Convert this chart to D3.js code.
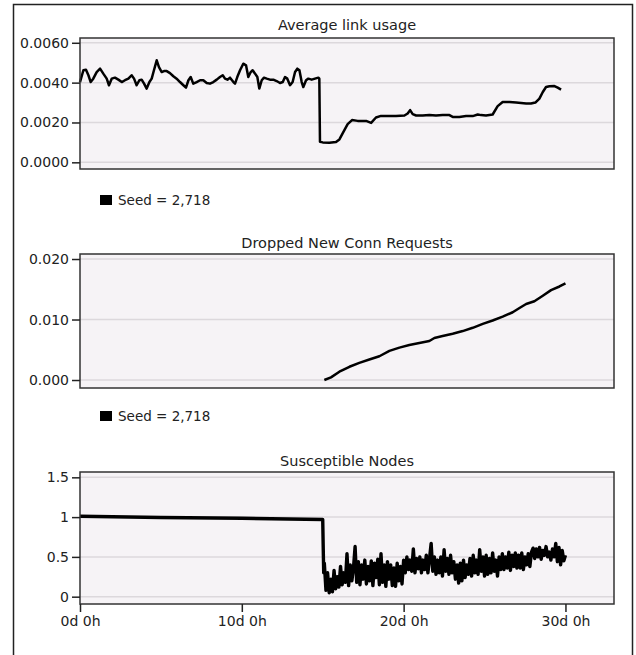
<!DOCTYPE html>
<html>
<head>
<meta charset="utf-8">
<script src="https://cdn.jsdelivr.net/npm/d3@7"></script>
<style>
  body { margin: 0; background: #fff; }
  text { font-family: "DejaVu Sans", sans-serif; fill: #222; }
</style>
</head>
<body>
<svg id="chart" width="636" height="655"></svg>
<script>
// x axis (days)
const xTickDays = [0, 10, 20, 30];
const xTickLabels = ["0d 0h", "10d 0h", "20d 0h", "30d 0h"];
const legendLabel = "Seed = 2,718";

// Average link usage
const usageTicks = [0, 0.002, 0.004, 0.006];
const usageDays = [0.00, 0.21, 0.37, 0.52, 0.66, 0.82, 1.03, 1.24, 1.44, 1.65, 1.79, 1.96, 2.16, 2.37, 2.58, 2.78, 2.99, 3.19, 3.34, 3.50,
  3.67, 3.81, 3.96, 4.12, 4.29, 4.43, 4.57, 4.74, 4.88, 5.05, 5.19, 5.36, 5.56, 5.77, 5.97, 6.18, 6.39, 6.55, 6.70, 6.84,
  7.00, 7.21, 7.42, 7.62, 7.83, 8.03, 8.24, 8.45, 8.65, 8.82, 8.96, 9.11, 9.27, 9.48, 9.58, 9.72, 9.89, 10.09, 10.26, 10.40,
  10.55, 10.67, 10.82, 10.96, 11.08, 11.23, 11.37, 11.54, 11.74, 11.95, 12.15, 12.36, 12.53, 12.67, 12.81, 12.98, 13.14, 13.29, 13.43, 13.56,
  13.70, 13.80, 13.97, 14.11, 14.32, 14.52, 14.73, 14.79, 14.83, 15.00, 15.41, 15.82, 16.03, 16.23, 16.54, 16.81, 17.16, 17.68, 17.99, 18.29,
  18.60, 19.01, 19.53, 20.05, 20.25, 20.40, 20.56, 20.77, 21.18, 21.59, 22.00, 22.41, 22.83, 23.03, 23.44, 23.86, 24.27, 24.58, 24.78, 25.09,
  25.50, 25.81, 26.12, 26.54, 26.95, 27.26, 27.57, 27.87, 28.14, 28.39, 28.60, 28.80, 29.01, 29.32, 29.52, 29.73];
const usageValues = [0.00403, 0.00462, 0.00465, 0.00437, 0.00403, 0.00420, 0.00453, 0.00470, 0.00445, 0.00420, 0.00387, 0.00420, 0.00425, 0.00415, 0.00403, 0.00412, 0.00420, 0.00437, 0.00420, 0.00387,
  0.00412, 0.00415, 0.00395, 0.00370, 0.00403, 0.00420, 0.00462, 0.00512, 0.00478, 0.00453, 0.00458, 0.00458, 0.00448, 0.00432, 0.00420, 0.00403, 0.00387, 0.00375, 0.00412, 0.00428,
  0.00395, 0.00403, 0.00412, 0.00412, 0.00398, 0.00395, 0.00403, 0.00415, 0.00428, 0.00437, 0.00420, 0.00415, 0.00425, 0.00403, 0.00395, 0.00428, 0.00462, 0.00495, 0.00487, 0.00428,
  0.00453, 0.00462, 0.00445, 0.00428, 0.00370, 0.00412, 0.00425, 0.00420, 0.00415, 0.00415, 0.00408, 0.00398, 0.00403, 0.00428, 0.00420, 0.00387, 0.00403, 0.00453, 0.00470, 0.00462,
  0.00403, 0.00378, 0.00412, 0.00420, 0.00415, 0.00420, 0.00425, 0.00420, 0.00103, 0.00100, 0.00098, 0.00102, 0.00115, 0.00145, 0.00192, 0.00212, 0.00208, 0.00208, 0.00198, 0.00225,
  0.00233, 0.00232, 0.00232, 0.00235, 0.00245, 0.00262, 0.00242, 0.00235, 0.00235, 0.00238, 0.00235, 0.00237, 0.00237, 0.00228, 0.00228, 0.00232, 0.00232, 0.00240, 0.00237, 0.00235,
  0.00240, 0.00282, 0.00303, 0.00303, 0.00300, 0.00298, 0.00295, 0.00295, 0.00300, 0.00320, 0.00353, 0.00378, 0.00382, 0.00383, 0.00375, 0.00365];

// Dropped New Conn Requests
const droppedTicks = [0, 0.01, 0.02];
const droppedDays = [15.10, 15.51, 16.03, 16.65, 17.26, 17.88, 18.50, 19.12, 19.74, 20.35, 20.97, 21.59, 21.90, 22.41,
  23.03, 23.65, 24.27, 24.89, 25.50, 26.12, 26.74, 27.16, 27.57, 28.08, 28.60, 29.11, 29.63, 30.00];
const droppedValues = [0, 0.00044, 0.00137, 0.00219, 0.00284, 0.00339, 0.00393, 0.00481, 0.00536, 0.00579, 0.00612, 0.00645, 0.00694, 0.00727,
  0.00765, 0.00809, 0.00863, 0.00929, 0.00984, 0.01049, 0.01120, 0.01191, 0.01257, 0.01301, 0.01393, 0.01486, 0.01546, 0.01596];

// Susceptible Nodes
const susTicks = [0, 0.5, 1, 1.5];
const susHeadDays = [0, 5, 10, 15.0, 15.03, 15.06];
const susHeadValues = [1.01, 0.995, 0.985, 0.97, 0.62, 0.30];
const susNoiseStart = 15.1;
const susNoiseStep = 0.1;
const susNoiseValues = [
  0.42, 0.08, 0.30, 0.05, 0.22, 0.06, 0.33, 0.10, 0.25, 0.12,
  0.38, 0.15, 0.30, 0.18, 0.54, 0.14, 0.40, 0.20, 0.36, 0.63,
  0.18, 0.44, 0.15, 0.40, 0.22, 0.46, 0.16, 0.38, 0.20, 0.45,
  0.14, 0.42, 0.24, 0.47, 0.15, 0.54, 0.18, 0.40, 0.13, 0.44,
  0.22, 0.40, 0.14, 0.36, 0.13, 0.42, 0.20, 0.38, 0.16, 0.46,
  0.30, 0.50, 0.34, 0.46, 0.32, 0.60, 0.30, 0.48, 0.35, 0.50,
  0.30, 0.46, 0.34, 0.52, 0.30, 0.48, 0.67, 0.32, 0.50, 0.28,
  0.46, 0.30, 0.50, 0.26, 0.59, 0.32, 0.48, 0.28, 0.52, 0.30,
  0.44, 0.22, 0.40, 0.17, 0.42, 0.20, 0.46, 0.24, 0.40, 0.28,
  0.48, 0.26, 0.52, 0.30, 0.46, 0.28, 0.59, 0.32, 0.50, 0.26,
  0.52, 0.28, 0.48, 0.30, 0.55, 0.32, 0.46, 0.26, 0.50, 0.34,
  0.54, 0.34, 0.50, 0.36, 0.56, 0.33, 0.52, 0.38, 0.55, 0.36,
  0.52, 0.36, 0.55, 0.34, 0.50, 0.40, 0.54, 0.38, 0.56, 0.61,
  0.48, 0.60, 0.50, 0.62, 0.47, 0.58, 0.52, 0.63, 0.50, 0.56,
  0.46, 0.60, 0.50, 0.67, 0.44, 0.62, 0.40, 0.58, 0.45, 0.52];


const svg = d3.select("#chart");
const left = 80, right = 614;

// outer frame
svg.append("rect")
  .attr("x", 13.5).attr("y", 4.5)
  .attr("width", 619).attr("height", 700)
  .attr("fill", "none").attr("stroke", "#222").attr("stroke-width", 1.5);

const x = d3.scaleLinear().domain([0, 33]).range([left, right]);

function pairs(days, values) {
  return days.map(function (d, i) { return [d, values[i]]; });
}

function drawPanel(p) {
  const y = d3.scaleLinear().domain(p.domain).range([p.bottom, p.top]);
  const g = svg.append("g");

  g.append("rect")
    .attr("x", left).attr("y", p.top)
    .attr("width", right - left).attr("height", p.bottom - p.top)
    .attr("fill", "#f6f3f6");

  g.selectAll(".grid")
    .data(p.ticks).enter()
    .append("line")
    .attr("x1", left).attr("x2", right)
    .attr("y1", function (d) { return y(d); })
    .attr("y2", function (d) { return y(d); })
    .attr("stroke", "#dcd8dc").attr("stroke-width", 1.5);

  const line = d3.line()
    .x(function (d) { return x(d[0]); })
    .y(function (d) { return y(d[1]); });

  g.append("path")
    .datum(p.data)
    .attr("d", line)
    .attr("fill", "none")
    .attr("stroke", "#000")
    .attr("stroke-width", p.lineWidth)
    .attr("stroke-linejoin", "round");

  g.append("rect")
    .attr("x", left).attr("y", p.top)
    .attr("width", right - left).attr("height", p.bottom - p.top)
    .attr("fill", "none").attr("stroke", "#333").attr("stroke-width", 1.5);

  const yAxis = g.append("g")
    .attr("transform", "translate(" + left + ",0)")
    .call(d3.axisLeft(y).tickValues(p.ticks).tickFormat(p.format).tickSize(8).tickPadding(3));
  yAxis.select(".domain").remove();
  yAxis.selectAll(".tick line").attr("stroke", "#222").attr("stroke-width", 1.5);
  yAxis.selectAll("text").style("font-size", "14px").attr("fill", "#222");

  g.append("text")
    .attr("x", (left + right) / 2).attr("y", p.titleY)
    .attr("text-anchor", "middle")
    .style("font-size", "14.5px")
    .text(p.title);

  if (p.legendY != null) {
    g.append("rect")
      .attr("x", 100).attr("y", p.legendY - 5)
      .attr("width", 12).attr("height", 10)
      .attr("fill", "#000");
    g.append("text")
      .attr("x", 118).attr("y", p.legendY + 5)
      .style("font-size", "13.5px")
      .text(legendLabel);
  }
  return g;
}

drawPanel({
  title: "Average link usage", titleY: 30, top: 38, bottom: 169,
  domain: [-0.000335, 0.00624], ticks: usageTicks, format: d3.format(".4f"),
  data: pairs(usageDays, usageValues), lineWidth: 2.5, legendY: 200
});

drawPanel({
  title: "Dropped New Conn Requests", titleY: 248, top: 254, bottom: 388,
  domain: [-0.00132, 0.02083], ticks: droppedTicks, format: d3.format(".3f"),
  data: pairs(droppedDays, droppedValues), lineWidth: 2.5, legendY: 416
});

const susData = pairs(susHeadDays, susHeadValues)
  .concat(susNoiseValues.map(function (v, i) { return [susNoiseStart + i * susNoiseStep, v]; }));

drawPanel({
  title: "Susceptible Nodes", titleY: 466, top: 472, bottom: 604,
  domain: [-0.092, 1.567], ticks: susTicks, format: d3.format(""),
  data: susData, lineWidth: 3.4, legendY: null
});

// x axis on the bottom panel
const xAxis = svg.append("g")
  .attr("transform", "translate(0,604)")
  .call(d3.axisBottom(x).tickValues(xTickDays)
    .tickFormat(function (d, i) { return xTickLabels[i]; })
    .tickSize(8).tickPadding(4));
xAxis.select(".domain").remove();
xAxis.selectAll(".tick line").attr("stroke", "#222").attr("stroke-width", 1.5);
xAxis.selectAll("text").style("font-size", "14px").attr("fill", "#222");
</script>
</body>
</html>
